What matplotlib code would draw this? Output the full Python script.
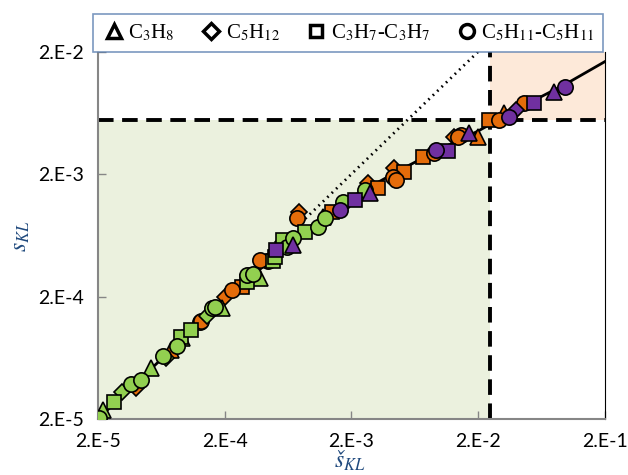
import matplotlib
matplotlib.use("Agg")
import matplotlib.pyplot as plt
from matplotlib.lines import Line2D

plt.rcParams['font.family'] = ['Lato', 'DejaVu Sans']
plt.rcParams['mathtext.fontset'] = 'stix'

# --- data (s_check_KL, s_KL) ---
# green series
g_tri_x = [2.19e-5, 5.27e-5, 9.29e-5, 1.89e-4, 3.79e-4]
g_tri_y = [2.37e-5, 5.22e-5, 9.19e-5, 1.62e-4, 2.84e-4]
g_dia_x = [3.10e-5, 6.9e-5, 1.45e-4]
g_dia_y = [3.33e-5, 6.3e-5, 1.4e-4]
g_sq_x = [2.68e-5, 9.12e-5, 1.09e-4, 2.99e-4, 4.81e-4, 4.99e-4, 5.77e-4, 8.63e-4]
g_sq_y = [2.75e-5, 9.36e-5, 1.07e-4, 2.64e-4, 3.92e-4, 4.23e-4, 5.82e-4, 6.76e-4]
g_ci_x = [2.04e-5, 3.66e-5, 4.39e-5, 6.56e-5, 8.47e-5, 1.58e-4, 1.67e-4, 2.99e-4,
          3.33e-4, 6.21e-4, 6.93e-4, 1.09e-3, 1.24e-3, 1.73e-3, 2.58e-3]
g_ci_y = [2.04e-5, 3.86e-5, 4.17e-5, 6.55e-5, 7.91e-5, 1.62e-4, 1.65e-4, 3.01e-4,
          3.07e-4, 5.10e-4, 6.04e-4, 7.43e-4, 8.80e-4, 1.19e-3, 1.49e-3]

# orange series
o_tri_x = [7.59e-5, 1.2e-3, 2.0e-2, 3.21e-2]
o_tri_y = [7.33e-5, 9.0e-4, 4.05e-3, 6.36e-3]
o_dia_x = [4.01e-5, 2.0e-4, 5.77e-4, 7.73e-4, 2.73e-3, 4.31e-3, 1.29e-2]
o_dia_y = [3.58e-5, 2.0e-4, 5.6e-4, 9.86e-4, 1.70e-3, 2.25e-3, 4.05e-3]
o_sq_x = [2.73e-4, 1.41e-3, 3.22e-3, 5.17e-3, 7.32e-3, 2.44e-2]
o_sq_y = [2.40e-4, 9.86e-4, 1.55e-3, 2.09e-3, 2.77e-3, 5.57e-3]
o_ci_x = [1.27e-4, 1.31e-4, 2.27e-4, 4.39e-4, 3.79e-4, 7.45e-4, 4.23e-3, 4.47e-3,
          8.95e-3, 1.47e-2, 1.39e-2, 2.94e-2, 4.64e-2]
o_ci_y = [1.24e-4, 1.27e-4, 2.27e-4, 3.92e-4, 3.99e-4, 8.80e-4, 1.91e-3, 1.80e-3,
          2.99e-3, 4.20e-3, 4.05e-3, 5.57e-3, 7.67e-3]

# purple series
p_tri_x = [6.93e-4, 2.83e-3, 1.70e-2, 8.02e-2]
p_tri_y = [5.29e-4, 1.41e-3, 4.36e-3, 9.44e-3]
p_dia_x = [4.01e-2]
p_dia_y = [6.73e-3]
p_sq_x = [5.08e-4, 2.15e-3, 1.16e-2, 5.56e-2]
p_sq_y = [4.82e-4, 1.24e-3, 3.11e-3, 7.67e-3]
p_ci_x = [1.64e-3, 9.29e-3, 3.52e-2, 9.63e-2]
p_ci_y = [1.02e-3, 3.17e-3, 5.89e-3, 1.04e-2]

# fitted curve and 1:1 line
curve_x = [2e-5, 5e-5, 1e-4, 2e-4, 5e-4, 1e-3, 2e-3, 5e-3, 1e-2, 2e-2, 5e-2, 1e-1, 2e-1]
curve_y = [2e-5, 4.9e-5, 9.6e-5, 1.85e-4, 4.3e-4, 7.8e-4, 1.3e-3, 2.2e-3, 3.2e-3,
           4.5e-3, 7.6e-3, 1.1e-2, 1.66e-2]
diag_x = [8e-4, 2e-2]
diag_y = [8e-4, 2e-2]

x_crit = 2.5e-2
y_crit = 5.5e-3

ticks = [2e-5, 2e-4, 2e-3, 2e-2, 2e-1]
xlabels = ["2.E-5", "2.E-4", "2.E-3", "2.E-2", "2.E-1"]
yticks = [2e-5, 2e-4, 2e-3, 2e-2]
ylabels = ["2.E-5", "2.E-4", "2.E-3", "2.E-2"]

green = "#92D050"
orange = "#E46C0A"
purple = "#7030A0"

fig = plt.figure(figsize=(6.28, 4.75), dpi=100)
ax = fig.add_axes([0.156, 0.118, 0.807, 0.773])
ax.set_xscale("log")
ax.set_yscale("log")
ax.set_xlim(2e-5, 2e-1)
ax.set_ylim(2e-5, 2e-2)

# shaded regimes
ax.fill_between([2e-5, x_crit], 2e-5, y_crit, color="#EBF1DE", zorder=0, lw=0)
ax.fill_between([x_crit, 2e-1], y_crit, 2e-2, color="#FDE9D9", zorder=0, lw=0)

ax.axhline(y_crit, color="black", lw=2.8, ls=(0, (4, 2.2)), zorder=1)
ax.axvline(x_crit, color="black", lw=2.8, ls=(0, (4, 2.2)), zorder=1)
ax.plot(diag_x, diag_y, color="black", lw=2, ls=(0, (0.6, 1.6)), zorder=1)
ax.plot(curve_x, curve_y, color="black", lw=2, zorder=2)

groups = [
    (orange, [(o_tri_x, o_tri_y), (o_dia_x, o_dia_y), (o_sq_x, o_sq_y), (o_ci_x, o_ci_y)]),
    (green, [(g_tri_x, g_tri_y), (g_dia_x, g_dia_y), (g_sq_x, g_sq_y), (g_ci_x, g_ci_y)]),
    (purple, [(p_tri_x, p_tri_y), (p_dia_x, p_dia_y), (p_sq_x, p_sq_y), (p_ci_x, p_ci_y)]),
]
markers = [("^", 11), ("D", 8), ("s", 9.5), ("o", 11)]
z = 3
for col, sets in groups:
    for (xs, ys), (m, ms) in zip(sets, markers):
        ax.plot(xs, ys, ls="none", marker=m, ms=ms, mfc=col, mec="black",
                mew=1.2, zorder=z)
        z += 0.1

ax.set_xticks(ticks)
ax.set_xticklabels(xlabels)
ax.set_yticks(yticks)
ax.set_yticklabels(ylabels)
ax.minorticks_off()
ax.tick_params(direction="in", length=6, width=1, color="#868686",
               labelsize=14, pad=10)

for s in ["left", "bottom"]:
    ax.spines[s].set_color("#868686")
    ax.spines[s].set_linewidth(1.5)
ax.spines["right"].set_color("black")
ax.spines["top"].set_visible(False)

fig.text(0.035, 0.503, r"$s_{KL}$", rotation=90, ha="center", va="center",
         fontsize=17, color="#1F497D")
fig.text(0.557, 0.004, r"$\mathit{š}_{KL}$", ha="center", va="bottom",
         fontsize=17, color="#1F497D")

handles = [
    Line2D([], [], ls="none", marker="^", ms=10, mfc="white", mec="black", mew=2.5),
    Line2D([], [], ls="none", marker="D", ms=8, mfc="white", mec="black", mew=2.5),
    Line2D([], [], ls="none", marker="s", ms=9, mfc="white", mec="black", mew=2.5),
    Line2D([], [], ls="none", marker="o", ms=10, mfc="white", mec="black", mew=2.5),
]
labels = [r"C$_3$H$_8$", r"C$_5$H$_{12}$", r"C$_3$H$_7$-C$_3$H$_7$",
          r"C$_5$H$_{11}$-C$_5$H$_{11}$"]
leg = fig.legend(handles, labels, loc="lower left", ncol=4,
                 bbox_to_anchor=(0.148, 0.891, 0.812, 0.084), mode="expand",
                 frameon=True, fancybox=False, handletextpad=0.1,
                 handlelength=1.2, columnspacing=0.8, borderaxespad=0,
                 prop={"family": "Liberation Serif", "size": 15})
leg.get_frame().set_edgecolor("#5B7FB0")
leg.get_frame().set_linewidth(1.2)
for t in leg.get_texts():
    t.set_fontfamily("Liberation Serif")

fig.savefig("out.png", dpi=100)
